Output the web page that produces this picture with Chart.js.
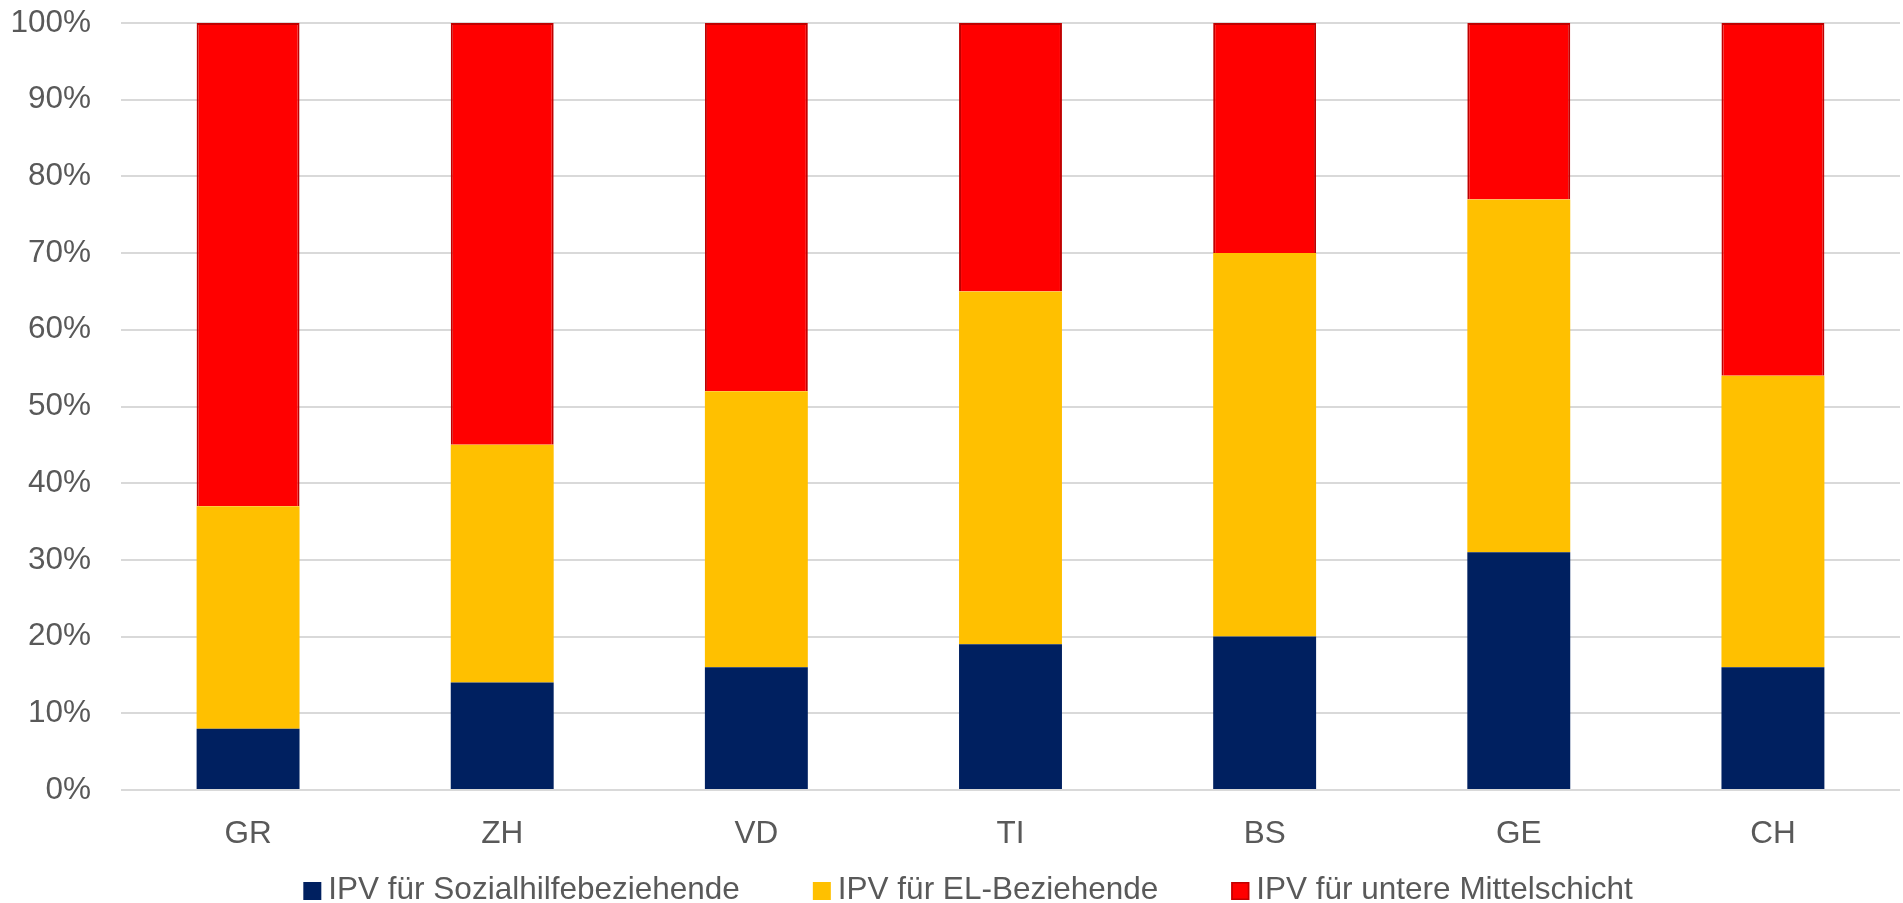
<!DOCTYPE html>
<html>
<head>
<meta charset="utf-8">
<script src="https://cdn.jsdelivr.net/npm/chart.js@4.4.1/dist/chart.umd.min.js"></script>
<style>
html,body{margin:0;padding:0;background:#fff;}
#wrap{width:1903px;height:903px;position:relative;}
</style>
</head>
<body>
<div id="wrap"><canvas id="c"></canvas></div>
<script>
const categories = ["GR", "ZH", "VD", "TI", "BS", "GE", "CH"];
const sozialhilfe = [8, 14, 16, 19, 20, 31, 16];
const elBeziehende = [29, 31, 36, 46, 50, 46, 38];
const mittelschicht = [63, 55, 48, 35, 30, 23, 46];
const yTicks = [0, 10, 20, 30, 40, 50, 60, 70, 80, 90, 100];

const FONT_FAMILY = "'Liberation Sans', Arial, sans-serif";
const FONT_SIZE = 31.5;
const TEXT_COLOR = '#595959';

const bottomLegend = {
  id: 'bottomLegend',
  afterDraw(chart) {
    const ctx = chart.ctx;
    const box = 18, gapText = 7, gapItem = 73, centerX = 968, centerY = 890;
    ctx.save();
    ctx.font = FONT_SIZE + 'px ' + FONT_FAMILY;
    ctx.textBaseline = 'middle';
    ctx.textAlign = 'left';
    const items = chart.data.datasets.map(ds => ({
      label: ds.label, fill: ds.backgroundColor, stroke: ds.borderWidth ? ds.borderColor : null,
      w: ctx.measureText(ds.label).width
    }));
    let total = 0;
    items.forEach((it, i) => { total += box + gapText + it.w + (i < items.length - 1 ? gapItem : 0); });
    let x = centerX - total / 2;
    items.forEach(it => {
      ctx.fillStyle = it.fill;
      ctx.fillRect(x, centerY - box / 2 + 1, box, box);
      if (it.stroke) {
        ctx.strokeStyle = it.stroke; ctx.lineWidth = 1.5;
        ctx.strokeRect(x + 0.75, centerY - box / 2 + 1.75, box - 1.5, box - 1.5);
      }
      ctx.fillStyle = TEXT_COLOR;
      ctx.fillText(it.label, x + box + gapText, centerY);
      x += box + gapText + it.w + gapItem;
    });
    ctx.restore();
  }
};

new Chart(document.getElementById('c'), {
  type: 'bar',
  data: {
    labels: categories,
    datasets: [
      {label: 'IPV für Sozialhilfebeziehende', data: sozialhilfe, backgroundColor: '#002060', borderWidth: 0},
      {label: 'IPV für EL-Beziehende', data: elBeziehende, backgroundColor: '#FFC000', borderWidth: 0},
      {label: 'IPV für untere Mittelschicht', data: mittelschicht, backgroundColor: '#FF0000', borderColor: '#C00000', borderWidth: 2}
    ]
  },
  plugins: [bottomLegend],
  options: {
    responsive: true,
    maintainAspectRatio: false,
    animation: false,
    layout: {padding: {left: 0, right: 3, top: 23, bottom: 57}},
    datasets: {bar: {categoryPercentage: 1, barPercentage: 0.405}},
    scales: {
      x: {
        stacked: true,
        grid: {display: false, drawTicks: false},
        border: {display: false},
        ticks: {color: TEXT_COLOR, font: {family: FONT_FAMILY, size: FONT_SIZE}, padding: 25, maxRotation: 0},
        afterFit: (s) => { s.height = 56; s.paddingLeft = 0; s.paddingRight = 0; }
      },
      y: {
        stacked: true,
        min: 0, max: 100,
        afterBuildTicks: (axis) => { axis.ticks = yTicks.map(v => ({value: v})); },
        grid: {color: '#D9D9D9', lineWidth: 2, drawTicks: false},
        border: {display: false},
        ticks: {color: TEXT_COLOR, font: {family: FONT_FAMILY, size: FONT_SIZE}, padding: 30, callback: v => v + '%'},
        afterFit: (s) => { s.width = 121; s.paddingTop = 0; s.paddingBottom = 0; }
      }
    },
    plugins: {
      tooltip: {enabled: false},
      legend: {display: false}
    }
  }
});
</script>
</body>
</html>
